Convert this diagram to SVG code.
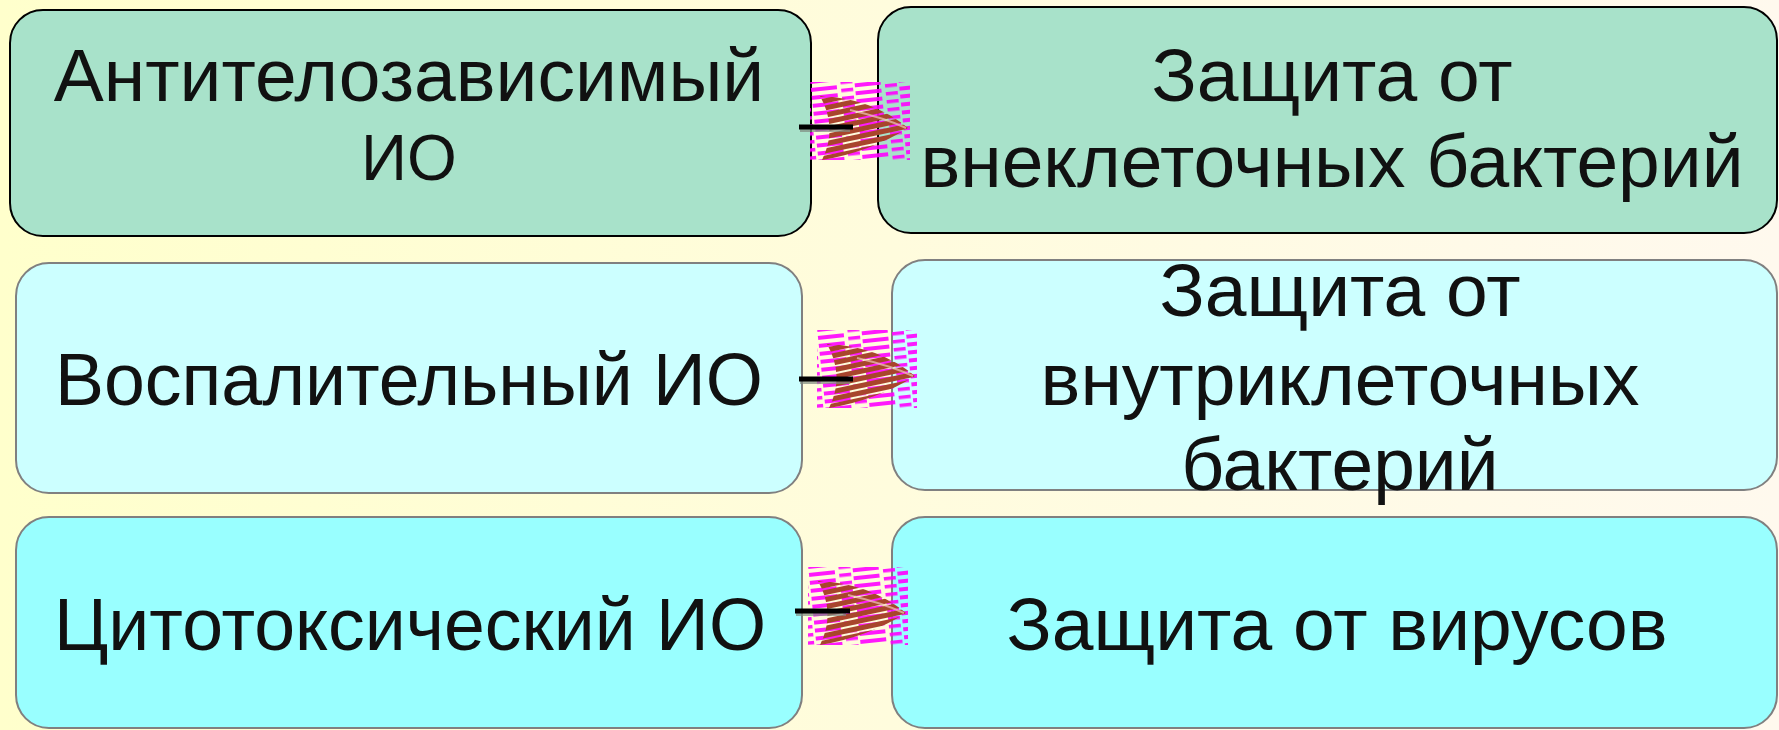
<svg xmlns="http://www.w3.org/2000/svg" width="1779" height="730" viewBox="0 0 1779 730">
<style>
.t{font-family:"Liberation Sans",Arial,sans-serif;font-size:75px;fill:#111;text-anchor:middle}
.s{font-size:64px}
.bk{stroke:#000;stroke-width:2}
.gr{stroke:#808080;stroke-width:2}
.c1{fill:#A8E2CA}
.c2{fill:#CCFFFF}
.c3{fill:#99FFFF}
.ln{stroke:#000;stroke-width:5;fill:none}
.sh{stroke:#7f8a80;stroke-width:4;fill:none;opacity:.7}
</style>
<defs>
<linearGradient id="bg" x1="0" y1="0" x2="1" y2="0">
<stop offset="0" stop-color="#FFFFCC"/>
<stop offset="1" stop-color="#FFF9EE"/>
</linearGradient>
<pattern id="pm" width="44" height="8" patternUnits="userSpaceOnUse" patternTransform="rotate(-6)">
<rect x="0" y="0" width="26" height="4" fill="#FF00FF"/>
<rect x="30" y="4" width="12" height="3.5" fill="#FF00FF"/>
</pattern>
<pattern id="pb" width="34" height="7" patternUnits="userSpaceOnUse" patternTransform="rotate(-12)">
<rect width="34" height="5" fill="#A8452C"/>
</pattern>
<g id="glitch">
<rect x="0" y="2" width="100" height="78" fill="url(#pm)" opacity=".9"/>
<path d="M10 16 Q62 18 98 48 Q60 72 12 80 Q28 48 10 16 Z" fill="url(#pb)"/>
<path d="M40 30 Q75 38 96 48" stroke="#F0C8B8" stroke-width="2" fill="none" opacity=".7"/>
</g>
</defs>
<rect width="1779" height="730" fill="url(#bg)"/>

<g id="node-antibody">
<rect class="c1 bk" x="10" y="10" width="801" height="226" rx="33"/>
<text class="t" x="409" y="101">Антителозависимый</text>
<text class="t s" x="409" y="180">ИО</text>
</g>
<g id="node-extracellular">
<rect class="c1 bk" x="878" y="7" width="899" height="226" rx="33"/>
<text class="t" x="1332" y="101">Защита от</text>
<text class="t" x="1332" y="187">внеклеточных бактерий</text>
</g>
<g id="node-inflammatory">
<rect class="c2 gr" x="16" y="263" width="786" height="230" rx="33"/>
<text class="t" x="409" y="405" textLength="708" lengthAdjust="spacingAndGlyphs">Воспалительный ИО</text>
</g>
<g id="node-intracellular">
<rect class="c2 gr" x="892" y="260" width="885" height="230" rx="33"/>
<text class="t" x="1340" y="316">Защита от</text>
<text class="t" x="1340" y="405">внутриклеточных</text>
<text class="t" x="1340" y="490">бактерий</text>
</g>
<g id="node-cytotoxic">
<rect class="c3 gr" x="16" y="517" width="786" height="211" rx="33"/>
<text class="t" x="410" y="650" textLength="712" lengthAdjust="spacingAndGlyphs">Цитотоксический ИО</text>
</g>
<g id="node-viruses">
<rect class="c3 gr" x="892" y="517" width="885" height="211" rx="33"/>
<text class="t" x="1337" y="650">Защита от вирусов</text>
</g>

<g id="connectors">
<use href="#glitch" x="810" y="80"/>
<use href="#glitch" x="817" y="328"/>
<use href="#glitch" x="808" y="565"/>
<line class="sh" x1="800" y1="130" x2="850" y2="130"/>
<line class="ln" x1="799" y1="127" x2="853" y2="127"/>
<line class="sh" x1="800" y1="382" x2="850" y2="382"/>
<line class="ln" x1="799" y1="379" x2="853" y2="379"/>
<line class="sh" x1="796" y1="614" x2="846" y2="614"/>
<line class="ln" x1="795" y1="611" x2="850" y2="611"/>
</g>
</svg>
